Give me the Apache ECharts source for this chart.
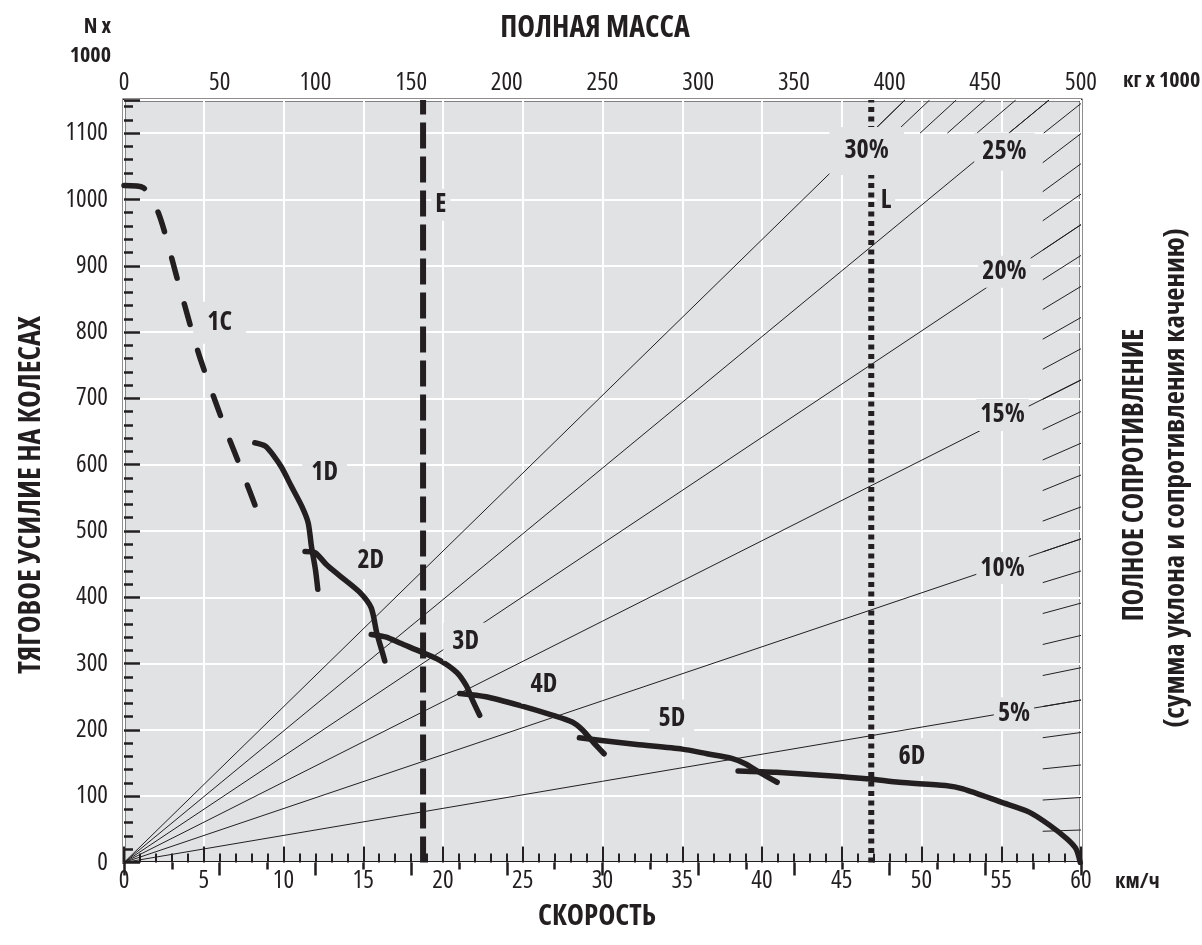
<!DOCTYPE html>
<html><head><meta charset="utf-8">
<script src="https://cdn.jsdelivr.net/npm/echarts@6/dist/echarts.min.js"></script>
<style>html,body{margin:0;padding:0;background:#fff}#c{width:1202px;height:945px}</style>
</head><body><div id="c"></div>
<script>
// ---- data (speed km/h, traction kN x1000) ----
const curve1C = [[0,1021],[1.2,1018],[2.2,977],[3.4,875],[4.7,766],[6.25,661],[7.4,590],[8.5,521]];
const curve1D = [[8.2,633],[8.85,628],[9.4,613],[9.9,595],[10.5,567],[11.15,537],[11.55,512],[11.75,477],[12.0,442],[12.15,412]];
const curve2D = [[11.35,469],[12.0,467],[12.7,449],[13.55,432],[14.8,407],[15.5,384],[15.85,346],[16.15,321],[16.35,304]];
const curve3D = [[15.5,344],[16.45,340],[17.3,331],[18.6,318],[19.8,305],[20.85,287],[21.45,267],[21.85,245],[22.3,222]];
const curve4D = [[21.05,255],[22.7,250],[24.8,237],[26.9,222],[28.1,212],[28.75,200],[29.4,182],[30.1,164]];
const curve5D = [[28.55,188],[29.95,184],[32.15,178],[35,171],[36.55,164],[38.1,157],[38.95,149],[39.85,136],[40.95,121]];
const curve6D = [[38.5,138],[40.9,136],[44.2,131],[46.75,126],[48.6,121],[51.5,116],[52.6,111],[55,91],[56.75,76],[58.05,56],[59.15,35],[59.7,20],[59.95,0]];
const curveLabels = ['1C','1D','2D','3D','4D','5D','6D'];
const curveLabelPos = [[6.0,814],[12.58,588],[15.47,456],[21.42,333],[26.32,268],[34.35,217],[49.4,159]];
const limitSpeeds = [18.75, 46.85];          // E, L
const limitLabels = ['E','L'];
const limitLabelPos = [[19.86,992],[47.77,999]];

// grade lines (mass t x1000, resistance kN x1000)
const gradeLabels = ['5%','10%','15%','20%','25%','30%'];
const gradeLineEnds = [[500,245],[500,488],[500,728],[500,962],[483.3,1150],[408,1150]];
const gradeLabelPos = [[465,225],[459,444],[459,675],[460,891],[460,1072],[388,1073]];
// short grade marks 1%..23% at right edge, 24%..30% at top
const hatchStart = [[480,47.1],[480,94.2],[480,141.2],[480,188.2],[480,235.2],[480,282],[480,328.8],[480,375.5],[480,422.1],[480,468.6],[480,514.9],[480,561],[480,607.1],[480,652.9],[480,698.5],[480,743.9],[480,789.2],[480,834.1],[480,878.9],[480,923.5],[480,967.8],[480,1011.7],[480,1055.4],
  [480.5,1100],[462.3,1100],[445.6,1100],[430.2,1100],[415.9,1100],[402.6,1100],[390.2,1100]];
const hatchEnd = [[500,49],[500,98.1],[500,147.1],[500,196.1],[500,245],[500,293.8],[500,342.5],[500,391.2],[500,439.7],[500,488.1],[500,536.3],[500,584.4],[500,632.4],[500,680.1],[500,727.6],[500,774.9],[500,822],[500,868.9],[500,915.6],[500,962],[500,1008.1],[500,1053.9],[500,1099.4],
  [500,1144.7],[483.3,1150],[465.9,1150],[449.7,1150],[434.8,1150],[420.9,1150],[408,1150]];

const INK = '#231f20';
const BG = '#e1e2e4';
const FAM = "'Open Sans'";

const chart = echarts.init(document.getElementById('c'), null, {renderer:'canvas'});

function curve(data, dashed){
  return {type:'line', xAxisIndex:0, yAxisIndex:0, data, symbol:'none', smooth:0.25, z:5,
    lineStyle:{color:INK, width:5.5, cap:'round', join:'round', type: dashed ? [21,27] : 'solid'}, silent:true};
}
const boldLabel = (pad) => ({show:true, position:'inside', color:INK, fontFamily:FAM, fontWeight:'bold condensed', fontSize:26,
  backgroundColor:BG, padding:pad, opacity:1});

const series = [
  {type:'lines', coordinateSystem:'cartesian2d', xAxisIndex:1, yAxisIndex:0, silent:true, z:2,
    lineStyle:{color:INK, width:1, opacity:1, curveness:0},
    data: gradeLineEnds.map(e => ({coords:[[0,0], e]}))},
  {type:'lines', coordinateSystem:'cartesian2d', xAxisIndex:1, yAxisIndex:0, silent:true, z:2,
    lineStyle:{color:INK, width:1, opacity:1, curveness:0},
    data: hatchStart.map((s,i) => ({coords:[s, hatchEnd[i]]}))},
  {type:'line', xAxisIndex:0, yAxisIndex:0, symbol:'none', silent:true, z:4,
    data:[[limitSpeeds[0],0],[limitSpeeds[0],1150]], lineStyle:{color:INK, width:6, type:[26,8]}},
  {type:'line', xAxisIndex:0, yAxisIndex:0, symbol:'none', silent:true, z:4,
    data:[[limitSpeeds[1],0],[limitSpeeds[1],1150]], lineStyle:{color:INK, width:6, type:[5,4.5]}},
  curve(curve1C, true), curve(curve1D), curve(curve2D), curve(curve3D), curve(curve4D), curve(curve5D), curve(curve6D),
  {type:'scatter', xAxisIndex:0, yAxisIndex:0, symbolSize:0, silent:true, z:10, itemStyle:{opacity:1},
    data: curveLabels.map((t,i) => ({value:curveLabelPos[i], label:{...boldLabel(t==='1C'?[8,14]:[6,9]), formatter:t}}))
      .concat(limitLabels.map((t,i) => ({value:limitLabelPos[i], label:{...boldLabel([3,4]), formatter:t}})))},
  {type:'scatter', xAxisIndex:1, yAxisIndex:0, symbolSize:0, silent:true, z:10, itemStyle:{opacity:1},
    data: gradeLabels.map((t,i) => ({value:gradeLabelPos[i], label:{...boldLabel(t==='30%'?[11,15]:(t==='25%'?[6,8]:[3,4])), formatter:t}}))}
];

const tickLabel = {color:INK, fontFamily:FAM, fontWeight:'condensed', fontSize:25};

function txt(text, x, y, size, align, rot){
  return {type:'text', x, y, rotation:rot||0, z:100, silent:true,
    style:{text, fill:INK, font:`bold condensed ${size}px ${FAM}`, align, verticalAlign:'middle', textAlign:align, textVerticalAlign:'middle'}};
}

chart.setOption({
  animation:false,
  grid:{left:124, right:121, top:100, bottom:82.5, show:true, backgroundColor:BG, borderColor:INK, borderWidth:3},
  xAxis:[
    {type:'value', position:'bottom', min:0, max:60, interval:5,
      axisLine:{show:false}, axisTick:{inside:true, length:16, lineStyle:{color:INK, width:2}},
      minorTick:{show:true, splitNumber:5, length:9, lineStyle:{color:INK, width:2}},
      axisLabel:{...tickLabel, margin:6}, splitLine:{show:true, lineStyle:{color:'#ffffff', width:2}}},
    {type:'value', position:'top', min:0, max:500, interval:50,
      axisLine:{show:false}, axisTick:{inside:true, length:13, lineStyle:{color:INK, width:2.5}},
      minorTick:{show:true, splitNumber:2, length:7, lineStyle:{color:INK, width:2.5}},
      axisLabel:{...tickLabel, margin:5}, splitLine:{show:false}}
  ],
  yAxis:[
    {type:'value', position:'left', min:0, max:1150, interval:100,
      axisLine:{show:false}, axisTick:{inside:true, length:16, lineStyle:{color:INK, width:2.5}},
      axisLabel:{...tickLabel, margin:16, formatter:v => v===1150 ? '' : String(v)},
      splitLine:{show:true, lineStyle:{color:'#ffffff', width:2}}},
    {type:'value', position:'left', offset:0, min:0, max:1150, interval:20,
      axisLine:{show:false}, axisTick:{inside:true, length:9, lineStyle:{color:INK, width:2.5}},
      axisLabel:{show:false}, splitLine:{show:false}}
  ],
  graphic:[
    txt('ПОЛНАЯ МАССА', 595, 28, 30, 'center'),
    txt('N x', 111, 27, 22, 'right'),
    txt('1000', 111, 56, 22, 'right'),
    txt('кг x 1000', 1123, 81, 22, 'left'),
    txt('км/ч', 1115, 882, 22, 'left'),
    txt('СКОРОСТЬ', 597, 917, 29, 'center'),
    txt('ТЯГОВОЕ УСИЛИЕ НА КОЛЕСАХ', 31, 495, 30, 'center', Math.PI/2),
    txt('ПОЛНОЕ СОПРОТИВЛЕНИЕ', 1135, 475, 28, 'center', Math.PI/2),
    txt('(сумма уклона и сопротивления качению)', 1176, 478, 29, 'center', Math.PI/2)
  ],
  series
});
</script></body></html>
